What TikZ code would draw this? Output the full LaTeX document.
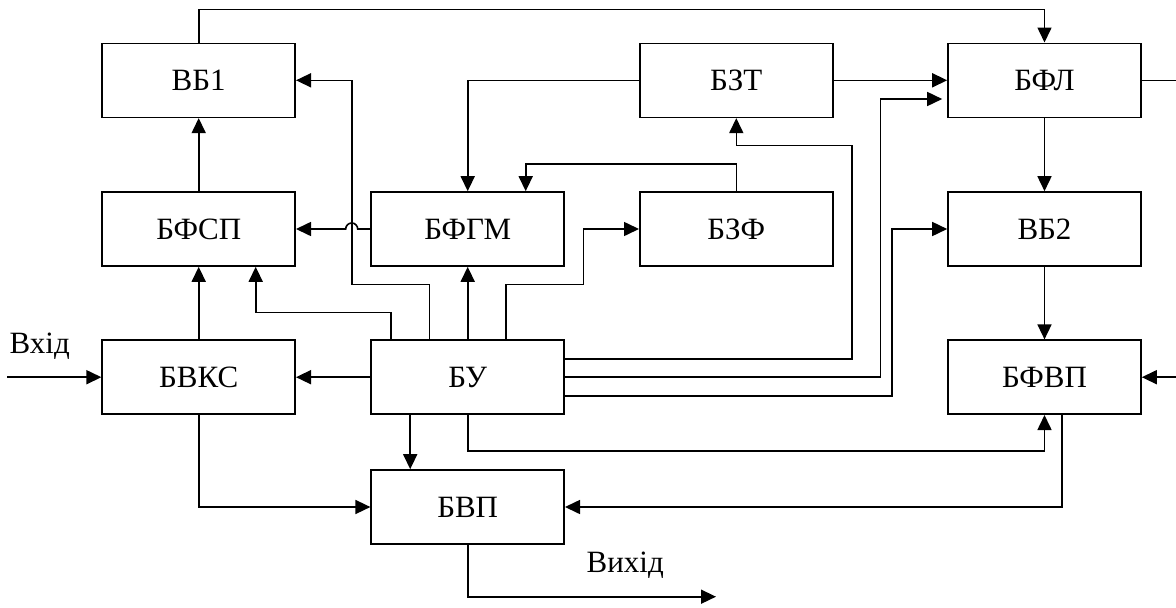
\documentclass[tikz,border=0pt]{standalone}
\usepackage{fontspec}
\setmainfont{Liberation Serif}
\usetikzlibrary{arrows.meta}

\tikzset{
  blk/.style={draw, line width=1.6pt, minimum width=193pt, minimum height=74pt,
    inner sep=0pt, text height=20.5pt, text depth=0pt,
    font=\fontsize{31}{36}\selectfont},
  wire/.style={line width=1.6pt},
  conn/.style={wire, -{Triangle[length=15pt,width=14pt]}},
  lbl/.style={anchor=base, inner sep=0pt, font=\fontsize{31}{36}\selectfont}
}

\begin{document}
\begin{tikzpicture}[x=1pt,y=1pt]
  \useasboundingbox[fill=white] (0,0) rectangle (1176,-608);

  % blocks
  \node[blk] (vb1)  at (198.7,-80.3)  {ВБ1};
  \node[blk] (bzt)  at (736.3,-80.3)  {БЗТ};
  \node[blk] (bfl)  at (1044.5,-80.3) {БФЛ};
  \node[blk] (bfsp) at (198.7,-229)   {БФСП};
  \node[blk] (bfgm) at (467.7,-229)   {БФГМ};
  \node[blk] (bzf)  at (736.3,-229)   {БЗФ};
  \node[blk] (vb2)  at (1044.5,-229)  {ВБ2};
  \node[blk] (bvks) at (198.7,-377.2) {БВКС};
  \node[blk] (bu)   at (467.7,-377.2) {БУ};
  \node[blk] (bfvp) at (1044.5,-377.2){БФВП};
  \node[blk] (bvp)  at (467.7,-507)   {БВП};

  % free ends
  \coordinate (in)   at (7.3,-377.2);
  \coordinate (rin)  at (1176,-377.2);
  \coordinate (rout) at (1176,-80.3);
  \coordinate (out)  at (716,-596.7);

  % labels
  \node[lbl] (lin)  at (39.7,-353.3) {Вхід};
  \node[lbl] (lout) at (625.3,-572.7) {Вихід};

  % main chain
  \draw[conn] (in) -- (bvks.west);
  \draw[conn] (bvks.north) -- (bfsp.south);
  \draw[conn] (bfsp.north) -- (vb1.south);
  \draw[conn] (vb1.north) |- (1044.5,-9.3) -- (bfl.north);
  \draw[conn] (bzt.east) -- (bfl.west);
  \draw[wire] (bfl.east) -- (rout);
  \draw[conn] (bfl.south) -- (vb2.north);
  \draw[conn] (vb2.south) -- (bfvp.north);
  \draw[conn] (rin) -- (bfvp.east);
  \draw[conn] ([xshift=17.5pt]bfvp.south) |- (bvp.east);
  \draw[conn] (bvks.south) |- (bvp.west);
  \draw[conn] (bvp.south) |- (out);

  % БЗТ and БЗФ feed БФГМ
  \draw[conn] (bzt.west) -| (bfgm.north);
  \draw[conn] (bzf.north) |- (525.7,-164) -- ([xshift=58pt]bfgm.north);

  % БФГМ to БФСП, hopping over the vertical wire
  \draw[conn] (bfgm.west) -- (357.7,-229)
    arc[start angle=0, end angle=180, radius=6pt] -- (bfsp.east);

  % control outputs of БУ
  \draw[conn] (bu.west) -- (bvks.east);
  \draw[conn] (bu.north) -- (bfgm.south);
  \draw[conn] ([xshift=-38.4pt]bu.north) |- (351.7,-284.3) |- (vb1.east);
  \draw[conn] ([xshift=38pt]bu.north) |- (583.3,-284.3) |- (bzf.west);
  \draw[conn] ([xshift=-76.7pt]bu.north) |- (255.7,-312.3) -- ([xshift=57pt]bfsp.south);
  \draw[conn] ([xshift=-57.5pt]bu.south) -- ([xshift=-57.5pt]bvp.north);
  \draw[conn] (bu.south) -- (467.7,-451) -| (bfvp.south);
  \draw[conn] ([yshift=18.2pt]bu.east) -| (852,-145.3) -| (bzt.south);
  \draw[conn] (bu.east) -| (880.3,-99) -- ([xshift=-5pt,yshift=-18.7pt]bfl.west);
  \draw[conn] ([yshift=-18.8pt]bu.east) -- (891.7,-396) |- (vb2.west);
\end{tikzpicture}
\end{document}
